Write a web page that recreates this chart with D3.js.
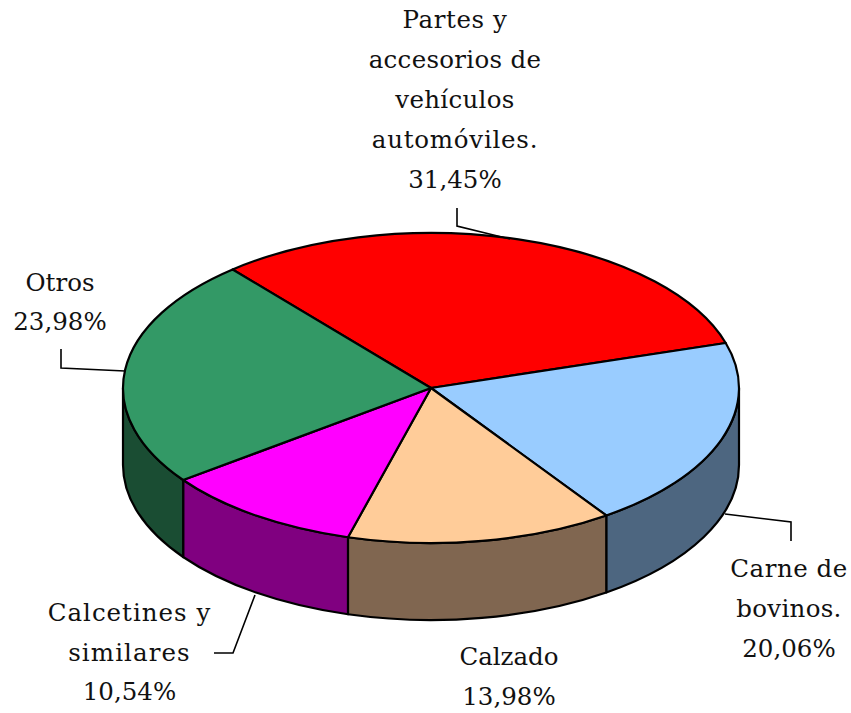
<!DOCTYPE html>
<html><head><meta charset="utf-8">
<script src="https://cdn.jsdelivr.net/npm/d3@7/dist/d3.min.js"></script>
<style>html,body{margin:0;padding:0;background:#fff}svg{display:block}
text{font-family:"DejaVu Serif",serif;fill:#111}</style></head>
<body><svg id="c" width="851" height="713"></svg>
<script>
const categories = ["Partes y accesorios de vehículos automóviles.","Carne de bovinos.","Calzado","Calcetines y similares","Otros"];
const values = [31.45,20.06,13.98,10.54,23.98];
const labelLines = [
  ["Partes y","accesorios de","vehículos","automóviles.","31,45%"],
  ["Carne de","bovinos.","20,06%"],
  ["Calzado","13,98%"],
  ["Calcetines y","similares","10,54%"],
  ["Otros","23,98%"]
];
const topColors = ["#ff0000","#99ccff","#ffcc99","#ff00ff","#339966"];
const sideColors = ["#800000","#4d6680","#806650","#800080","#1a4d33"];

// layout (separate from the data)
const cx=431,cy=388,rx=308,ry=155,depth=77;
const startDeg=-40.1, fontSize=24.5, lineGap=[40,40,40,39.5,39];
const labelPos=[[455,28],[789,577],[509,665],[129.5,621],[60,291]];
const letterSpacing=[
  [0.6,0.3,0.3,0.75,0],
  [0.5,0.3,0],
  [0,0],
  [1,1.1,0],
  [0,0]
];
const leaders=[
  [[457,208],[457,226],[510,239]],
  [[725,514],[791,522],[791,541]],
  null,
  [[255,595],[233,653],[214,653]],
  [[61,349],[61,368],[125,371]]
];

const svg=d3.select("#c");
const start=startDeg*Math.PI/180;
const arcs=d3.pie().sort(null).value(d=>d).startAngle(start).endAngle(start+2*Math.PI)(values);
const px=a=>cx+rx*Math.sin(a), py=a=>cy-ry*Math.cos(a);

function sidePath(a0,a1){
  const large=(a1-a0)>Math.PI?1:0;
  return `M${px(a0)},${py(a0)}A${rx},${ry} 0 ${large} 1 ${px(a1)},${py(a1)}`+
         `L${px(a1)},${py(a1)+depth}A${rx},${ry} 0 ${large} 0 ${px(a0)},${py(a0)+depth}Z`;
}
function topPath(a0,a1){
  const large=(a1-a0)>Math.PI?1:0;
  return `M${cx},${cy}L${px(a0)},${py(a0)}A${rx},${ry} 0 ${large} 1 ${px(a1)},${py(a1)}Z`;
}
const TAU=2*Math.PI, F0=Math.PI/2, F1=3*Math.PI/2;
const sides=[];
arcs.forEach((d,i)=>{
  for(const k of [-1,0,1]){
    const a0=Math.max(d.startAngle,F0+k*TAU), a1=Math.min(d.endAngle,F1+k*TAU);
    if(a1>a0) sides.push({a0,a1,i});
  }
});
svg.append("g").selectAll("path").data(sides).join("path")
  .attr("d",d=>sidePath(d.a0,d.a1)).attr("fill",d=>sideColors[d.i])
  .attr("stroke","#000").attr("stroke-width",2.2).attr("stroke-linejoin","round");
svg.append("g").selectAll("path").data(arcs).join("path")
  .attr("d",d=>topPath(d.startAngle,d.endAngle)).attr("fill",(d,i)=>topColors[i])
  .attr("stroke","#000").attr("stroke-width",2.2).attr("stroke-linejoin","round");

const line=d3.line();
svg.append("g").selectAll("path").data(leaders.filter(Boolean)).join("path")
  .attr("d",line).attr("fill","none").attr("stroke","#000").attr("stroke-width",1.6);

const g=svg.append("g").attr("text-anchor","middle").style("font-size",fontSize+"px");
labelLines.forEach((ls,i)=>{
  ls.forEach((t,j)=>g.append("text").attr("x",labelPos[i][0]).attr("y",labelPos[i][1]+j*lineGap[i])
    .style("letter-spacing",letterSpacing[i][j]+"px").text(t));
});
</script></body></html>
